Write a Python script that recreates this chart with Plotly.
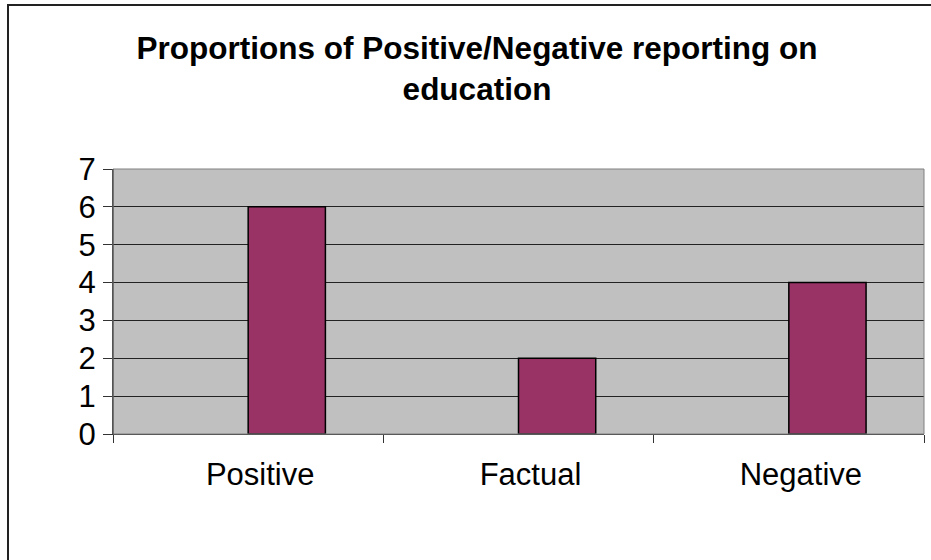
import plotly.graph_objects as go

categories = ["Positive", "Factual", "Negative"]
series_blank = [None, None, None]
series_values = [6, 2, 4]
y_ticks = [0, 1, 2, 3, 4, 5, 6, 7]
title_text = "Proportions of Positive/Negative reporting on<br>education"

W, H = 931, 560
L, R, T, B = 113, 7, 169, 126

fig = go.Figure()
fig.add_trace(go.Bar(x=categories, y=series_blank, showlegend=False,
                     marker=dict(color="#9999FF", line=dict(color="black", width=1.5))))
fig.add_trace(go.Bar(x=categories, y=series_values, showlegend=False,
                     marker=dict(color="#993366", line=dict(color="black", width=1.5))))

font = "Liberation Sans, Arial, sans-serif"
fig.update_layout(
    width=W, height=H,
    margin=dict(l=L, r=R, t=T, b=B, pad=0),
    paper_bgcolor="white",
    plot_bgcolor="#C0C0C0",
    barmode="group",
    bargap=1.5/3.5,
    bargroupgap=0,
    title=dict(text=title_text, x=477/W, xanchor="center",
               y=1-59/H, yanchor="top", yref="container",
               font=dict(family=font, size=31.5, color="black", weight="bold")),
    font=dict(family=font, size=31, color="black"),
    xaxis=dict(showgrid=False, ticks="outside", ticklen=8, tickcolor="#333",
               tickson="boundaries", showline=True, linecolor="#333", linewidth=1,
               ticklabelshift=12, ticklabelstandoff=13,
               tickfont=dict(family=font, size=31, color="black")),
    yaxis=dict(range=[0, 7], tickvals=y_ticks, showgrid=True, gridcolor="#222", gridwidth=1,
               ticks="outside", ticklen=9, tickcolor="#333", zeroline=False,
               showline=True, linecolor="#444", linewidth=1,
               ticklabelstandoff=1,
               tickfont=dict(family=font, size=31, color="black")),
)

# plot area border
fig.add_shape(type="rect", xref="paper", yref="paper", x0=0, y0=0, x1=1, y1=1,
              line=dict(color="#808080", width=1), layer="above")
fig.add_shape(type="line", xref="paper", yref="paper", x0=0, y0=0, x1=0, y1=1,
              line=dict(color="#444", width=1), layer="above")
# outer chart border (extends beyond the visible page on the right/bottom)
pw, ph = W - L - R, H - T - B
fig.add_shape(type="rect", xref="paper", yref="paper",
              x0=(8 - L) / pw, x1=(940 - L) / pw,
              y0=-(570 - (H - B)) / ph, y1=1 + (T - 5) / ph,
              line=dict(color="#222", width=2))

fig.write_html("out.html", config={"displayModeBar": False},
               post_script="document.body.style.margin='0';document.body.style.overflow='hidden';")
